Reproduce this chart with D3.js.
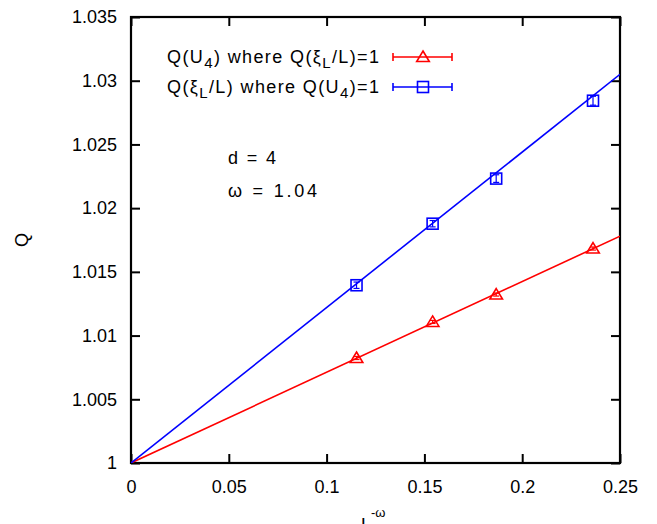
<!DOCTYPE html>
<html><head><meta charset="utf-8">
<script src="https://cdn.jsdelivr.net/npm/d3@7"></script>
<style>body{margin:0;background:#fff}svg{font-family:"Liberation Sans",Arial,sans-serif}</style>
</head><body><svg id="c" width="657" height="524"></svg>
<script>
const xU4 = [0.1153, 0.1542, 0.1867, 0.2362];
const qU4 = [1.00824, 1.01107, 1.01322, 1.01683];
const eU4 = [0.00012, 0.00012, 0.00012, 0.00012];
const xXi = [0.1153, 0.1542, 0.1867, 0.2362];
const qXi = [1.01395, 1.01878, 1.02232, 1.02843];
const eXi = [0.00025, 0.00025, 0.00030, 0.00035];
const fitU4 = [[0, 1.0], [0.25, 1.0178]];
const fitXi = [[0, 1.0], [0.25, 1.0305]];
const xTicks = [0, 0.05, 0.1, 0.15, 0.2, 0.25];
const yTicks = [1, 1.005, 1.01, 1.015, 1.02, 1.025, 1.03, 1.035];
const legendLabels = ["Q(U<sub>4</sub>) where Q(ξ<sub>L</sub>/L)=1", "Q(ξ<sub>L</sub>/L) where Q(U<sub>4</sub>)=1"];

const svg = d3.select("#c");
const L = 131, R = 620, T = 17, B = 463;
const x = d3.scaleLinear().domain([0, 0.25]).range([L, R]);
const y = d3.scaleLinear().domain([1, 1.035]).range([B, T]);
const FS = 18;

const fmtX = d => d === 0 ? "0" : String(+d.toFixed(2));
const fmtY = d => d === 1 ? "1" : String(+d.toFixed(3));

svg.append("g").attr("transform", `translate(0,${B})`)
  .call(d3.axisBottom(x).tickValues(xTicks).tickFormat(fmtX).tickSize(-9).tickPadding(17));
svg.append("g").attr("transform", `translate(${L},0)`)
  .call(d3.axisLeft(y).tickValues(yTicks).tickFormat(fmtY).tickSize(-9).tickPadding(14));
svg.append("g").attr("transform", `translate(0,${T})`)
  .call(d3.axisTop(x).tickValues(xTicks).tickFormat("").tickSize(-9));
svg.append("g").attr("transform", `translate(${R},0)`)
  .call(d3.axisRight(y).tickValues(yTicks).tickFormat("").tickSize(-9));
svg.selectAll(".domain").remove();
svg.selectAll(".tick line").attr("stroke", "#000").attr("stroke-width", 2);
svg.selectAll(".tick text").attr("font-size", FS).attr("fill", "#000").attr("font-family", '"Liberation Sans",Arial,sans-serif');
svg.append("rect").attr("x", L).attr("y", T).attr("width", R - L).attr("height", B - T)
  .attr("fill", "none").attr("stroke", "#000").attr("stroke-width", 2.2);

svg.append("clipPath").attr("id", "cl").append("rect").attr("x", L).attr("y", T).attr("width", R - L).attr("height", B - T);
const g = svg.append("g").attr("clip-path", "url(#cl)");
const line = d3.line().x(d => x(d[0])).y(d => y(d[1]));
g.append("path").attr("d", line(fitU4)).attr("stroke", "#ff0000").attr("stroke-width", 1.6).attr("fill", "none");
g.append("path").attr("d", line(fitXi)).attr("stroke", "#0000ff").attr("stroke-width", 1.6).attr("fill", "none");

function tri(sel, cx, cy, c) {
  const s = 6;
  sel.append("path").attr("d", `M${cx},${cy - s}L${cx + s * 1.05},${cy + s * 0.75}L${cx - s * 1.05},${cy + s * 0.75}Z`)
    .attr("fill", "none").attr("stroke", c).attr("stroke-width", 1.6);
}
function sq(sel, cx, cy, c) {
  const s = 5.5;
  sel.append("rect").attr("x", cx - s).attr("y", cy - s).attr("width", 2 * s).attr("height", 2 * s)
    .attr("fill", "none").attr("stroke", c).attr("stroke-width", 1.6);
}
function ebar(sel, cx, y0, y1, c) {
  sel.append("line").attr("x1", cx).attr("x2", cx).attr("y1", y0).attr("y2", y1).attr("stroke", c).attr("stroke-width", 1.2);
  [y0, y1].forEach(yy => sel.append("line").attr("x1", cx - 3).attr("x2", cx + 3).attr("y1", yy).attr("y2", yy).attr("stroke", c).attr("stroke-width", 1.2));
}
xU4.forEach((v, i) => {
  ebar(g, x(v), y(qU4[i] - eU4[i]), y(qU4[i] + eU4[i]), "#ff0000");
  tri(g, x(v), y(qU4[i]), "#ff0000");
});
xXi.forEach((v, i) => {
  ebar(g, x(v), y(qXi[i] - eXi[i]), y(qXi[i] + eXi[i]), "#0000ff");
  sq(g, x(v), y(qXi[i]), "#0000ff");
});

const legY = [57, 87], colors = ["#ff0000", "#0000ff"];
legendLabels.forEach((lab, i) => {
  const t = svg.append("text").attr("x", 167).attr("y", legY[i] + 6).attr("font-size", FS)
    .attr("textLength", 212).attr("lengthAdjust", "spacing");
  let shift = 0;
  lab.split(/(<sub>.*?<\/sub>)/).forEach(part => {
    if (!part) return;
    const m = part.match(/<sub>(.*?)<\/sub>/);
    if (m) {
      t.append("tspan").attr("dy", 5).attr("font-size", 15).text(m[1]);
      shift = -5;
    } else {
      t.append("tspan").attr("dy", shift).text(part);
      shift = 0;
    }
  });
  const c = colors[i], yy = legY[i];
  svg.append("line").attr("x1", 393).attr("x2", 452).attr("y1", yy).attr("y2", yy).attr("stroke", c).attr("stroke-width", 1.6);
  [393, 452].forEach(xx => svg.append("line").attr("x1", xx).attr("x2", xx).attr("y1", yy - 4).attr("y2", yy + 4).attr("stroke", c).attr("stroke-width", 1.6));
  if (i === 0) tri(svg, 423, yy, c); else sq(svg, 423, yy, c);
});

svg.append("text").attr("x", 228).attr("y", 164).attr("font-size", FS)
  .attr("textLength", 48).attr("lengthAdjust", "spacing").text("d = 4");
svg.append("text").attr("x", 228).attr("y", 197).attr("font-size", FS)
  .attr("textLength", 89).attr("lengthAdjust", "spacing").text("ω = 1.04");

svg.append("text").attr("transform", "translate(28,240) rotate(-90)").attr("text-anchor", "middle").attr("font-size", FS).text("Q");
const xl = svg.append("text").attr("x", 361).attr("y", 531).attr("font-size", FS);
xl.append("tspan").text("L");
xl.append("tspan").attr("dy", -14).attr("font-size", 13).text("-ω");
</script></body></html>
